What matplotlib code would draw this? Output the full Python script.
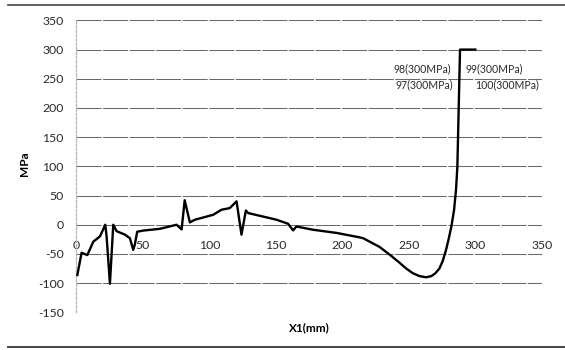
import matplotlib
matplotlib.use("Agg")
import matplotlib.pyplot as plt
from matplotlib.lines import Line2D

plt.rcParams['font.family'] = ['Lato', 'DejaVu Sans']
plt.rcParams['axes.unicode_minus'] = False

# Stress profile along X1
x_mm = [0.8, 4, 8.3, 12.8, 17.8, 20, 21.8, 22.8, 25.3, 27.8, 30.3, 36.6, 40.3,
        42.8, 44, 45.8, 50.3, 62.9, 75.4, 79.2, 81.5, 85.4, 89.2, 102.9, 109.2,
        115.4, 120.5, 124.2, 127.5, 129.2, 150.5, 159.2, 163, 165.5, 178, 195.6,
        213, 215.6, 228, 236, 243, 248, 253, 258, 263, 267, 270, 273, 275.5,
        278, 280, 282, 284, 285.5, 286.5, 287, 287.5, 288, 288.5, 290, 300]
stress_mpa = [-86, -48, -52, -29, -20, -9, 0, -20, -101, 0, -11, -17, -23,
              -43, -34, -12, -10, -7, 0, -8, 42, 4, 8.6, 17, 25.7,
              28.5, 40, -17, 24.5, 20, 8.6, 1.7, -9.7, -3, -8.6, -14,
              -21.6, -23, -38, -52, -65, -75, -83, -88, -90, -88, -83, -75, -62,
              -43, -24, -3, 25, 60, 100, 150, 200, 250, 300, 300, 300]

x_ticks = [0, 50, 100, 150, 200, 250, 300, 350]
y_ticks = [-150, -100, -50, 0, 50, 100, 150, 200, 250, 300, 350]

# Point labels near the plateau: (text, x, y, horizontal alignment)
point_labels = [("98(300MPa)", 281.5, 267, "right"),
                ("99(300MPa)", 292.5, 267, "left"),
                ("97(300MPa)", 283.0, 240, "right"),
                ("100(300MPa)", 300.0, 240, "left")]

fig = plt.figure(figsize=(5.65, 3.5), dpi=100)
ax = fig.add_axes([0.135, 0.1077, 0.824, 0.834])

ax.plot(x_mm, stress_mpa, color="black", lw=1.7, solid_joinstyle="round", zorder=3)

ax.set_xlim(0, 350)
ax.set_ylim(-150, 350)
ax.set_xticks(x_ticks)
ax.set_yticks(y_ticks)

for yv in y_ticks:
    ax.axhline(yv, color="#6a6a6a", lw=0.75, dashes=(24, 1.5), zorder=1)

for side in ("top", "right"):
    ax.spines[side].set_visible(False)
ax.spines["bottom"].set_position(("data", 0))
ax.spines["bottom"].set_visible(False)
ax.spines["left"].set_color("#b5b5b5")
ax.spines["left"].set_linestyle((0, (2, 1.5)))
ax.spines["left"].set_linewidth(0.9)

ax.tick_params(axis="x", length=0, pad=11, labelsize=8.8, colors="#2a2a2a")
ax.tick_params(axis="y", length=0, pad=9, labelsize=8.8, colors="#2a2a2a")

ax.set_ylabel("MPa", fontsize=8.5, fontweight="bold")
ax.yaxis.set_label_coords(-0.1, 0.51)
ax.text(0.5, -0.035, "X1(mm)", transform=ax.transAxes, ha="center", va="top",
        fontsize=8.5, fontweight="bold")

for txt, xv, yv, ha in point_labels:
    ax.text(xv, yv, txt, ha=ha, va="center", fontsize=7.6, color="#2a2a2a")

# page rules above and below the figure
fig.add_artist(Line2D([0.014, 1.0], [1 - 5 / 350, 1 - 5 / 350], color="#444444", lw=1.2))
fig.add_artist(Line2D([0.014, 1.0], [1 - 347 / 350, 1 - 347 / 350], color="#444444", lw=1.4))

fig.savefig("out.png", dpi=100)
